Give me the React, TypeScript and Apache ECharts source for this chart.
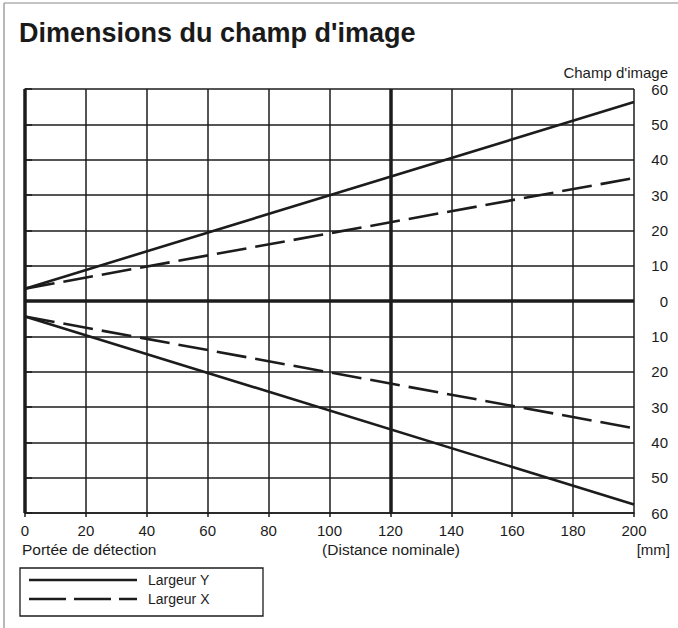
import React, { useEffect, useRef } from "react";
import * as echarts from "echarts";

const distances = [0, 200];
const largeurYUpper = [3.5, 56.3];
const largeurYLower = [-4.4, -57.6];
const largeurXUpper = [3.5, 34.8];
const largeurXLower = [-4.4, -36.0];
const refXLines = [0, 120];
const refYLines = [0];
const xMin = 0, xMax = 200, xStep = 20;
const yMin = -60, yMax = 60, yStep = 10;
const legendNames = ["Largeur Y", "Largeur X"];

const INK = "#1c1c1c";
const FONT = "Liberation Sans, Arial, sans-serif";

const pairs = (ys: number[]) => distances.map((d, i) => [d, ys[i]]);

export default function App() {
  const ref = useRef<HTMLDivElement>(null);
  useEffect(() => {
    if (!ref.current) return;
    const chart = echarts.init(ref.current, null, { renderer: "svg" });
    const solid = { color: INK, width: 2.6, type: "solid" as const };
    const dashed = { color: INK, width: 2.6, type: [30, 9] as any };
    chart.setOption({
      animation: false,
      backgroundColor: "#fff",
      textStyle: { fontFamily: FONT },
      grid: { left: 25, right: 44, top: 89, bottom: 115 },
      xAxis: {
        type: "value",
        min: xMin,
        max: xMax,
        interval: xStep,
        axisLine: { show: true, onZero: false, lineStyle: { color: INK, width: 1.5 } },
        axisTick: { show: true, length: 4, lineStyle: { color: INK, width: 1.5 } },
        axisLabel: { fontSize: 15, color: INK, margin: 10, fontFamily: FONT },
        splitLine: { show: true, lineStyle: { color: INK, width: 1.5 } },
      },
      yAxis: {
        type: "value",
        position: "right",
        min: yMin,
        max: yMax,
        interval: yStep,
        axisLine: { show: true, lineStyle: { color: INK, width: 1.5 } },
        axisTick: { show: true, length: 7, lineStyle: { color: INK, width: 1.5 } },
        axisLabel: {
          fontSize: 15,
          color: INK,
          margin: 34,
          align: "right",
          fontFamily: FONT,
          formatter: (v: number) => String(Math.abs(v)),
        },
        splitLine: { show: true, lineStyle: { color: INK, width: 1.5 } },
      },
      series: [
        {
          name: legendNames[0],
          type: "line",
          data: pairs(largeurYUpper),
          symbol: "none",
          lineStyle: solid,
          itemStyle: { color: INK },
          z: 5,
          markLine: {
            silent: true,
            symbol: ["none", "none"],
            label: { show: false },
            lineStyle: { color: INK, width: 3.5, type: "solid" },
            data: [
              ...refXLines.map((v) => ({ xAxis: v })),
              ...refYLines.map((v) => ({ yAxis: v })),
            ],
          },
        },
        {
          name: legendNames[0],
          type: "line",
          data: pairs(largeurYLower),
          symbol: "none",
          lineStyle: solid,
          itemStyle: { color: INK },
          z: 5,
        },
        {
          name: legendNames[1],
          type: "line",
          data: pairs(largeurXUpper),
          symbol: "none",
          lineStyle: dashed,
          itemStyle: { color: INK },
          z: 5,
        },
        {
          name: legendNames[1],
          type: "line",
          data: pairs(largeurXLower),
          symbol: "none",
          lineStyle: dashed,
          itemStyle: { color: INK },
          z: 5,
        },
      ],
      graphic: [
        { type: "line", shape: { x1: 4, y1: 3, x2: 678, y2: 3 }, style: { stroke: "#8a8a8a", lineWidth: 1.2 } },
        { type: "line", shape: { x1: 4, y1: 3, x2: 4, y2: 628 }, style: { stroke: "#8a8a8a", lineWidth: 1.2 } },
        {
          type: "text",
          left: 19,
          top: 19,
          style: { text: "Dimensions du champ d'image", font: `bold 27px ${FONT}`, fill: "#1a1a1a" },
        },
        {
          type: "text",
          x: 668,
          y: 72,
          style: { text: "Champ d'image", font: `15px ${FONT}`, fill: INK, textAlign: "right", textVerticalAlign: "middle" },
        },
        {
          type: "text",
          x: 22,
          y: 549,
          style: { text: "Portée de détection", font: `15.5px ${FONT}`, fill: INK, textAlign: "left", textVerticalAlign: "middle" },
        },
        {
          type: "text",
          x: 391,
          y: 549,
          style: { text: "(Distance nominale)", font: `15.5px ${FONT}`, fill: INK, textAlign: "center", textVerticalAlign: "middle" },
        },
        {
          type: "text",
          x: 670,
          y: 549,
          style: { text: "[mm]", font: `15px ${FONT}`, fill: INK, textAlign: "right", textVerticalAlign: "middle" },
        },
        // legend box
        {
          type: "rect",
          shape: { x: 20, y: 568, width: 243, height: 48 },
          style: { fill: "#fff", stroke: INK, lineWidth: 1.3 },
        },
        {
          type: "line",
          shape: { x1: 29, y1: 580, x2: 137, y2: 580 },
          style: { stroke: INK, lineWidth: 2.6 },
        },
        {
          type: "line",
          shape: { x1: 29, y1: 599, x2: 137, y2: 599 },
          style: { stroke: INK, lineWidth: 2.6, lineDash: [37, 8] },
        },
        {
          type: "text",
          x: 148,
          y: 580,
          style: { text: legendNames[0], font: `14px ${FONT}`, fill: INK, textVerticalAlign: "middle" },
        },
        {
          type: "text",
          x: 148,
          y: 599,
          style: { text: legendNames[1], font: `14px ${FONT}`, fill: INK, textVerticalAlign: "middle" },
        },
      ],
    });
    return () => chart.dispose();
  }, []);
  return (
    <div
      ref={ref}
      style={{ position: "fixed", left: 0, top: 0, width: 678, height: 628, background: "#fff" }}
    />
  );
}
